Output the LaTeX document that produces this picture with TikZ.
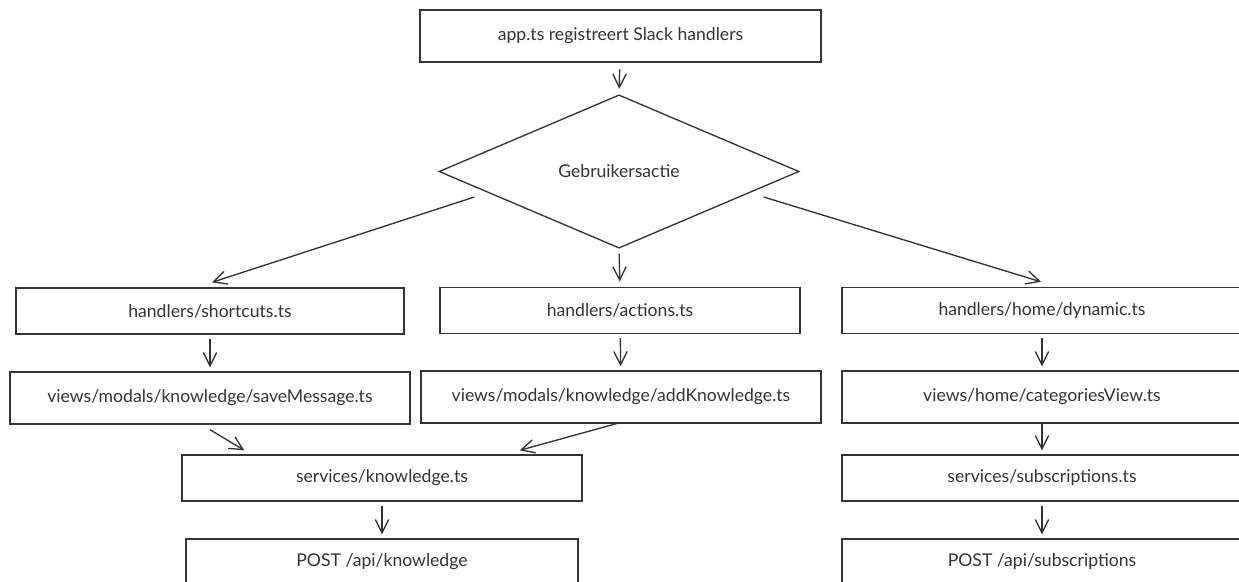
\documentclass[tikz,border=0pt]{standalone}
\usepackage{fontspec}
\setmainfont{Lato}
\usetikzlibrary{shapes.geometric,arrows.meta,calc}
\definecolor{ink}{HTML}{333333}
\begin{document}
\begin{tikzpicture}[x=0.75pt,y=-0.75pt,
  box/.style={draw=ink,line width=1pt,rectangle,inner sep=0pt,text=ink,font=\fontsize{13.2}{15}\selectfont},
  rowA/.style={box,minimum height=34.5pt},
  rowB/.style={box,minimum height=39pt},
  decision/.style={draw=ink,line width=1pt,diamond,inner sep=0pt,text=ink,font=\fontsize{13.2}{15}\selectfont,minimum width=270pt,minimum height=115pt},
  flow/.style={draw=ink,line width=1pt,-{Straight Barb[length=10pt,width=10pt,line width=1pt]}}]
\useasboundingbox (0,0) rectangle (1239,582);
\clip (0,0) rectangle (1239,582);

% start and decision
\node[box,minimum width=300.75pt,minimum height=39pt] (app) at (620.5,36) {app.ts registreert Slack handlers};
\node[decision] (dia) at (619,171.5) {Gebruikersactie};

% first row: handlers
\node[rowA,minimum width=291pt] (sc)  at (210,311) {handlers/shortcuts.ts};
\node[rowA,minimum width=270pt] (act) at (620,310.5) {handlers/actions.ts};
\node[rowA,minimum width=300pt] (dyn) at (1042,310.5) {handlers/home/dynamic.ts};

% second row: views
\node[rowB,minimum width=300pt] (sm)  at (210,398) {views/modals/knowledge/saveMessage.ts};
\node[rowB,minimum width=300pt] (ak)  at (621,397) {views/modals/knowledge/addKnowledge.ts};
\node[rowB,minimum width=300pt] (cv)  at (1042,397) {views/home/categoriesView.ts};

% third row: services
\node[rowA,minimum width=300pt] (sk)  at (382,478) {services/knowledge.ts};
\node[rowA,minimum width=300pt] (ss)  at (1042,478) {services/subscriptions.ts};

% fourth row: API endpoints
\node[rowA,minimum width=294pt] (pk)  at (382,562) {POST /api/knowledge};
\node[rowA,minimum width=300pt] (ps)  at (1042,562) {POST /api/subscriptions};

% connectors
\coordinate (dl) at ($(dia.west)!0.2!(dia.south)+(0,10)$);
\coordinate (dr) at ($(dia.east)!0.2!(dia.south)+(0,10)$);
\draw[flow,shorten <=5pt,shorten >=4pt] (app) -- (dia.north);
\draw[flow] (dl) -- ($(sc.north)+(2,-5)$);
\draw[flow,shorten <=4pt,shorten >=4pt] (dia.south) -- (act.north);
\draw[flow] (dr) -- ($(dyn.north)+(-1,-5)$);

\draw[flow,shorten <=3pt,shorten >=3pt] (sc) -- (sm);
\draw[flow,shorten <=3pt,shorten >=3pt] (act) -- (ak);
\draw[flow,shorten <=3pt,shorten >=3pt] (dyn) -- (cv);

\draw[flow] ($(sm.south)+(0,5)$) -- ($(sk.north west)+(63,-4)$);
\draw[flow] ($(ak.south)+(-1,-1)$) -- ($(sk.north east)+(-63,-4)$);
\draw[flow,shorten >=3pt] (cv) -- (ss);

\draw[flow,shorten <=3pt,shorten >=3pt] (sk) -- (pk);
\draw[flow,shorten <=3pt,shorten >=3pt] (ss) -- (ps);
\end{tikzpicture}
\end{document}
